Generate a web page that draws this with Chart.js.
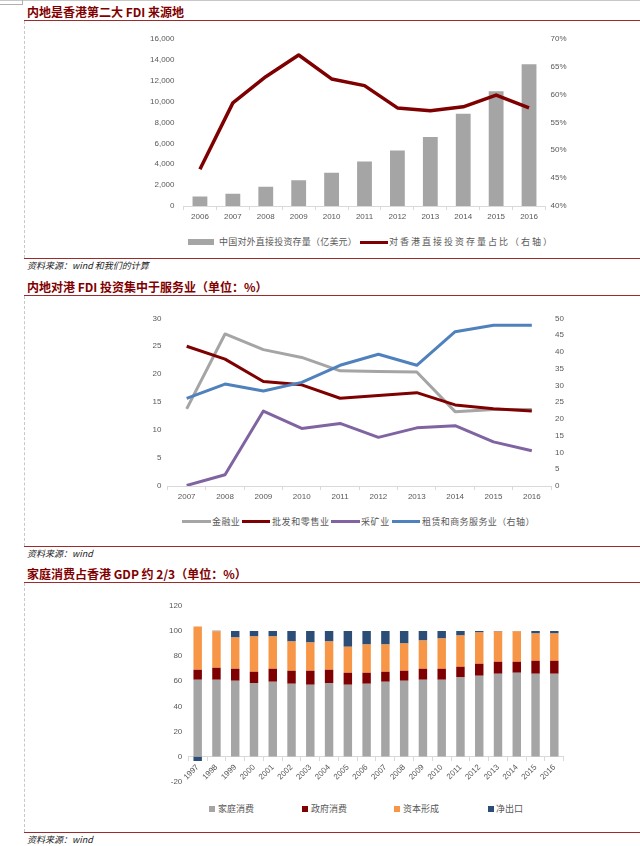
<!DOCTYPE html>
<html>
<head>
<meta charset="utf-8">
<script src="https://cdn.jsdelivr.net/npm/chart.js@4.4.1/dist/chart.umd.min.js"></script>
<style>
body { margin: 0; background: #fff; width: 640px; height: 846px; position: relative; overflow: hidden; font-family: "Noto Sans CJK SC", sans-serif; }
.title { position: absolute; left: 27px; font-size: 12px; font-weight: bold; color: #7f0000; line-height: 14px; white-space: nowrap; }
.rule { position: absolute; left: 24px; right: 0; height: 1px; background: #9e2b2b; }
.src { position: absolute; left: 27px; font-size: 9px; font-style: italic; color: #222; line-height: 11px; white-space: nowrap; }
.dash { position: absolute; left: 24px; width: 0; border-left: 1px dashed #c8c8c8; }
.leg { position: absolute; font-size: 9px; color: #595959; line-height: 11px; white-space: nowrap; }
.sw { position: absolute; }
canvas { position: absolute; }
</style>
</head>
<body>
<div style="position:absolute;left:0;top:0;width:640px;height:1px;background:#c8c8c8"></div>
<div style="position:absolute;left:0;top:4px;width:22px;height:1px;background:#b0b0b0"></div>
<div style="position:absolute;left:22px;top:0;width:1px;height:5px;background:#b0b0b0"></div>

<!-- section 1 -->
<div class="title" style="top:5px">内地是香港第二大 FDI 来源地</div>
<div class="rule" style="top:20px"></div>
<div class="dash" style="top:21px;height:237px"></div>
<canvas id="c1" width="470" height="200" style="left:130px;top:25px"></canvas>
<div class="sw" style="left:188px;top:239px;width:26px;height:6px;background:#a5a5a5"></div>
<div class="leg" style="left:219px;top:236px;letter-spacing:0.2px">中国对外直接投资存量（亿美元）</div>
<div class="sw" style="left:360px;top:241px;width:28px;height:3px;background:#7f0000"></div>
<div class="leg" style="left:389px;top:236px;letter-spacing:2px">对香港直接投资存量占比（右轴）</div>
<div class="rule" style="top:258px"></div>
<div class="src" style="top:260px">资料来源：wind 和我们的计算</div>

<!-- section 2 -->
<div class="title" style="top:280px">内地对港 FDI 投资集中于服务业（单位：%）</div>
<div class="rule" style="top:295px"></div>
<div class="dash" style="top:296px;height:250px"></div>
<canvas id="c2" width="500" height="205" style="left:110px;top:305px"></canvas>
<div class="sw" style="left:182px;top:520px;width:29px;height:3px;background:#a5a5a5"></div>
<div class="leg" style="left:212px;top:516px;letter-spacing:0.4px">金融业</div>
<div class="sw" style="left:242px;top:520px;width:28px;height:3px;background:#7f0000"></div>
<div class="leg" style="left:272px;top:516px;letter-spacing:0.6px">批发和零售业</div>
<div class="sw" style="left:331px;top:520px;width:29px;height:3px;background:#8064a2"></div>
<div class="leg" style="left:361px;top:516px;letter-spacing:0.6px">采矿业</div>
<div class="sw" style="left:392px;top:520px;width:28px;height:3px;background:#4f81bd"></div>
<div class="leg" style="left:422px;top:516px;letter-spacing:0.4px">租赁和商务服务业（右轴）</div>
<div class="rule" style="top:546px"></div>
<div class="src" style="top:548px">资料来源：wind</div>

<!-- section 3 -->
<div class="title" style="top:567px">家庭消费占香港 GDP 约 2/3（单位：%）</div>
<div class="rule" style="top:582px"></div>
<div class="dash" style="top:583px;height:249px"></div>
<canvas id="c3" width="470" height="200" style="left:130px;top:595px"></canvas>
<div class="sw" style="left:209px;top:806px;width:6px;height:6px;background:#a5a5a5"></div>
<div class="leg" style="left:218px;top:803px">家庭消费</div>
<div class="sw" style="left:302px;top:806px;width:6px;height:6px;background:#7f0000"></div>
<div class="leg" style="left:311px;top:803px">政府消费</div>
<div class="sw" style="left:394px;top:806px;width:6px;height:6px;background:#f79646"></div>
<div class="leg" style="left:403px;top:803px">资本形成</div>
<div class="sw" style="left:488px;top:806px;width:6px;height:6px;background:#2c4d75"></div>
<div class="leg" style="left:496px;top:803px">净出口</div>
<div class="rule" style="top:832px"></div>
<div class="src" style="top:834px">资料来源：wind</div>

<script>
// chart 1: OFDI stock (bars, 亿美元) and HK share (line, right axis %)
const fdiYears = ['2006', '2007', '2008', '2009', '2010', '2011', '2012', '2013', '2014', '2015', '2016'];
const fdiStock = [906, 1179, 1840, 2458, 3172, 4248, 5319, 6605, 8826, 10979, 13574];
const hkShare = [46.6, 58.5, 63.2, 67.1, 62.8, 61.6, 57.6, 57.1, 57.8, 59.9, 57.6];

// chart 2: sector shares (%), leasing on right axis
const sectorYears = ['2007', '2008', '2009', '2010', '2011', '2012', '2013', '2014', '2015', '2016'];
const finance = [13.8, 27.2, 24.4, 23.0, 20.6, 20.5, 20.4, 13.3, 13.7, 13.7];
const wholesale = [25.0, 22.7, 18.7, 18.1, 15.7, 16.2, 16.7, 14.5, 13.8, 13.4];
const mining = [0.1, 2.0, 13.4, 10.3, 11.2, 8.7, 10.4, 10.8, 7.9, 6.3];
const leasing = [26.1, 30.4, 28.3, 30.9, 36.0, 39.3, 36.0, 46.0, 47.9, 47.9];

// chart 3: HK GDP composition (%)
const gdpYears = ['1997', '1998', '1999', '2000', '2001', '2002', '2003', '2004', '2005', '2006',
                  '2007', '2008', '2009', '2010', '2011', '2012', '2013', '2014', '2015', '2016'];
const household = [61.2, 61.2, 60.4, 58.5, 59.6, 58.0, 57.2, 58.5, 57.2, 58.0, 59.6, 60.4, 61.2, 61.2, 63.3, 64.4, 66.0, 66.8, 66.0, 66.0];
const government = [7.9, 9.5, 9.5, 9.1, 10.3, 10.4, 11.2, 10.6, 9.6, 8.8, 8.0, 8.0, 8.7, 8.7, 8.2, 9.5, 9.5, 8.7, 10.3, 10.3];
const capital = [34.4, 29.0, 24.8, 27.9, 25.6, 23.1, 22.3, 22.4, 20.7, 22.3, 21.5, 21.5, 22.4, 24.0, 24.8, 24.8, 24.0, 24.2, 21.6, 21.6];
const netExports = [-3.5, 0.5, 5.3, 4.5, 4.5, 8.5, 9.3, 8.5, 12.5, 10.9, 10.9, 10.1, 7.7, 6.1, 3.7, 1.3, 0.5, 0.3, 2.1, 2.1];

const tickFont = { family: 'Liberation Sans', size: 8 };
const tickColor = '#595959';
const axisGray = '#d9d9d9';

function catAxis(height) {
    return {
        offset: true,
        grid: { offset: true, drawOnChartArea: false, drawTicks: true, tickLength: 4, color: axisGray },
        border: { color: axisGray },
        ticks: { padding: 2, font: tickFont, color: tickColor, maxRotation: 0, autoSkip: false },
        afterFit: s => { s.height = height }
    };
}

function valAxis(pos, min, max, step, width, pad, fmt) {
    return {
        position: pos, min: min, max: max,
        grid: { display: false, drawTicks: false },
        border: { display: false },
        ticks: { stepSize: step, padding: pad, font: tickFont, color: tickColor, callback: fmt },
        afterFit: s => { s.width = width }
    };
}

const baseOpts = {
    responsive: false,
    animation: false,
    plugins: { legend: { display: false }, tooltip: { enabled: false } }
};

new Chart(document.getElementById('c1'), {
    type: 'bar',
    data: {
        labels: fdiYears,
        datasets: [
            { type: 'line', data: hkShare, yAxisID: 'y1', borderColor: '#7f0000', borderWidth: 3.5,
              pointRadius: 0, tension: 0, borderJoinStyle: 'round' },
            { type: 'bar', data: fdiStock, yAxisID: 'y', backgroundColor: '#a5a5a5',
              barPercentage: 0.45, categoryPercentage: 1 }
        ]
    },
    options: Object.assign({}, baseOpts, {
        layout: { padding: { top: 10.7, left: 0, right: 0, bottom: 0 } },
        scales: {
            x: catAxis(19),
            y: valAxis('left', 0, 16000, 2000, 53.5, 9, v => v.toLocaleString('en-US')),
            y1: valAxis('right', 40, 70, 5, 54.5, 5, v => v + '%')
        }
    })
});

function sectorLine(data, color, axis) {
    return { data: data, yAxisID: axis, borderColor: color, borderWidth: 3, pointRadius: 0,
             tension: 0, borderJoinStyle: 'round' };
}

new Chart(document.getElementById('c2'), {
    type: 'line',
    data: {
        labels: sectorYears,
        // first dataset is drawn on top
        datasets: [
            sectorLine(leasing, '#4f81bd', 'y1'),
            sectorLine(mining, '#8064a2', 'y'),
            sectorLine(wholesale, '#7f0000', 'y'),
            sectorLine(finance, '#a5a5a5', 'y')
        ]
    },
    options: Object.assign({}, baseOpts, {
        layout: { padding: { top: 13.3, left: 0, right: 0, bottom: 0 } },
        scales: {
            x: catAxis(24),
            y: valAxis('left', 0, 30, 5, 57.5, 6),
            y1: valAxis('right', 0, 50, 5, 59, 4)
        }
    })
});

function gdpBar(data, color) {
    return { data: data, backgroundColor: color, barPercentage: 0.45, categoryPercentage: 1 };
}

new Chart(document.getElementById('c3'), {
    type: 'bar',
    data: {
        labels: gdpYears,
        datasets: [
            gdpBar(household, '#a5a5a5'),
            gdpBar(government, '#7f0000'),
            gdpBar(capital, '#f79646'),
            gdpBar(netExports, '#2c4d75')
        ]
    },
    options: Object.assign({}, baseOpts, {
        layout: { padding: { top: 10.7, left: 0, right: 36.3, bottom: 13.3 } },
        scales: {
            x: {
                stacked: true,
                position: { y: 0 },
                offset: true,
                grid: { offset: true, drawOnChartArea: false, drawTicks: true, tickLength: 4, color: axisGray },
                border: { color: axisGray },
                ticks: { padding: 2, font: tickFont, color: tickColor, minRotation: 45, maxRotation: 45, autoSkip: false }
            },
            y: Object.assign(valAxis('left', -20, 120, 20, 58.3, 6), { stacked: true })
        }
    })
});
</script>
</body>
</html>
